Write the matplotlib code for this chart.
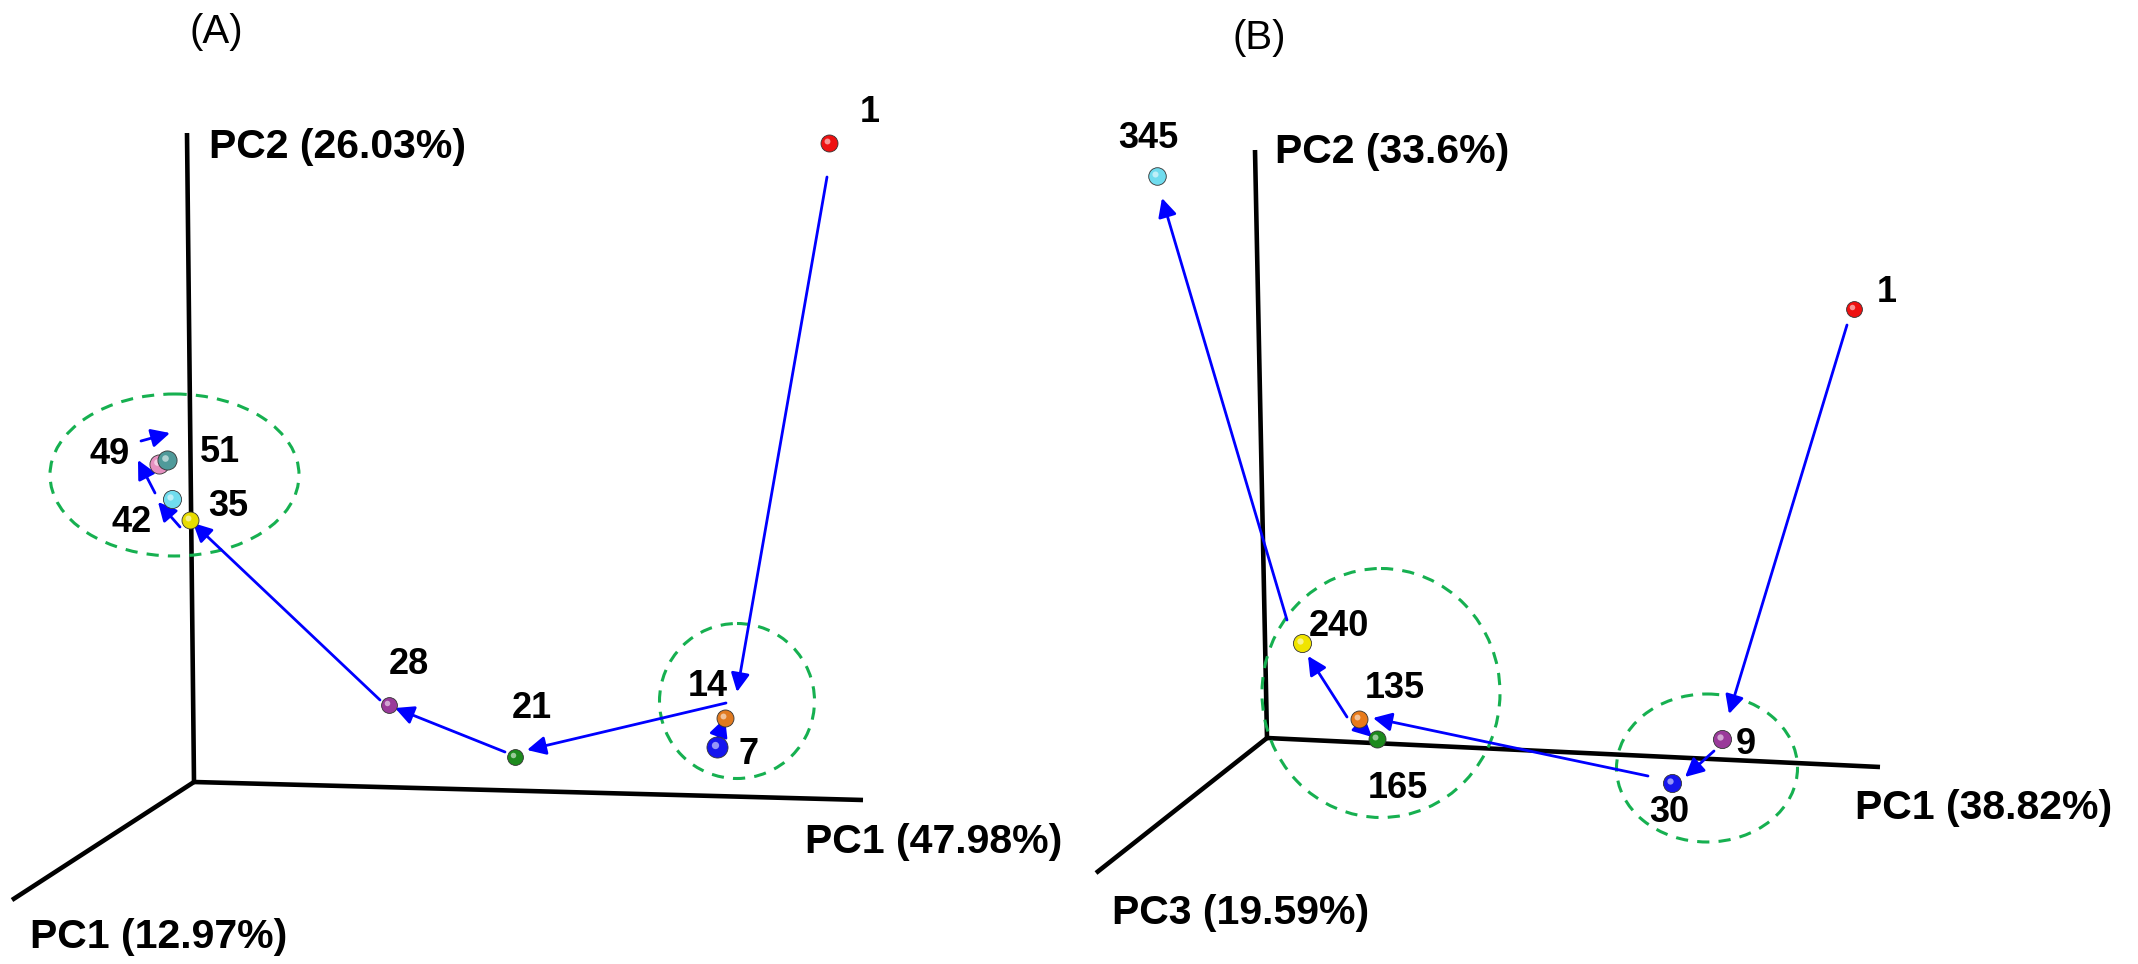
import matplotlib
matplotlib.use("Agg")
import matplotlib.pyplot as plt
from matplotlib.patches import Ellipse

plt.rcParams['font.family'] = ['Liberation Sans', 'DejaVu Sans']

# ---------------- Panel A data (projected picture coordinates) ----------------
a_axis_origin = (194, 782)
a_axis_ends = [(187, 133), (863, 800), (12, 900)]
a_axis_labels = ["PC2 (26.03%)", "PC1 (47.98%)", "PC1 (12.97%)"]
a_axis_label_pos = [(209, 147), (805, 842), (30, 937)]

a_ids = ["1", "7", "14", "21", "28", "35", "42", "49", "51"]
a_x = [829, 717, 725, 515, 389, 190, 172, 159, 167]
a_y = [143, 747, 718, 757, 705, 520, 499, 464, 460]
a_colors = ["#ee1111", "#1515ee", "#e07a20", "#1d8a1d", "#9a3a9a", "#e8dc00", "#70dcee", "#e590c0", "#4f9a9a"]
a_sizes = [150, 230, 150, 130, 130, 150, 170, 190, 190]
a_label_x = [870, 749, 708, 532, 409, 228, 132, 110, 220]
a_label_y = [112, 755, 687, 709, 665, 507, 523, 455, 452]

a_arrow_from = [(827, 177), (717, 740), (726, 703), (505, 752), (380, 700), (180, 527), (155, 493), (141, 441)]
a_arrow_to = [(737, 692), (725, 718), (527, 750), (395, 708), (193, 523), (158, 502), (138, 460), (170, 433)]

a_ellipses = [((174.5, 475), 249, 162), ((737, 701), 155, 155)]

# ---------------- Panel B data ----------------
b_axis_origin = (1267, 738)
b_axis_ends = [(1255, 150), (1880, 767), (1096, 873)]
b_axis_labels = ["PC2 (33.6%)", "PC1 (38.82%)", "PC3 (19.59%)"]
b_axis_label_pos = [(1275, 152), (1855, 808), (1112, 913)]

b_ids = ["1", "9", "30", "135", "165", "240", "345"]
b_x = [1854, 1722, 1672, 1359, 1377, 1302, 1157]
b_y = [309, 739, 783, 719, 739, 643, 176]
b_colors = ["#ee1111", "#9a3a9a", "#1515ee", "#e87a1a", "#1d8a1d", "#f0e400", "#70dcee"]
b_sizes = [130, 170, 170, 150, 150, 170, 160]
b_label_x = [1887, 1746, 1669, 1395, 1398, 1339, 1148]
b_label_y = [292, 745, 813, 689, 789, 626, 138]

b_arrow_from = [(1847, 325), (1714, 751), (1648, 776), (1357, 723), (1347, 717), (1287, 620)]
b_arrow_to = [(1729, 714), (1685, 777), (1373, 718), (1372, 737), (1308, 656), (1162, 198)]

b_ellipses = [((1381, 693), 238, 249), ((1707, 768), 181, 148)]

panel_titles = ["(A)", "(B)"]
panel_title_pos = [(216, 32), (1259, 38)]

# ---------------- Drawing ----------------
fig = plt.figure(figsize=(21.38, 9.64), dpi=100)
ax = fig.add_axes([0, 0, 1, 1])
ax.set_xlim(0, 2138)
ax.set_ylim(964, 0)
ax.axis('off')

BLUE = "#0000ff"
GREEN = "#16b050"


def draw_panel(origin, ends, labels, label_pos, ids, xs, ys, cols, sizes, lx, ly,
               afrom, ato, ells):
    for (ex, ey) in ends:
        ax.plot([origin[0], ex], [origin[1], ey], color="black", lw=3.3,
                solid_capstyle="butt", zorder=2)
    for t, (px, py) in zip(labels, label_pos):
        ax.text(px, py, t, fontsize=29.5, fontweight="bold", ha="left", va="center", zorder=6)
    for (c, w, h) in ells:
        ax.add_patch(Ellipse(c, w, h, fill=False, edgecolor=GREEN, lw=2.2,
                             linestyle=(0, (4, 3)), zorder=3))
    for (fx, fy), (tx, ty) in zip(afrom, ato):
        ax.annotate("", xy=(tx, ty), xytext=(fx, fy),
                    arrowprops=dict(arrowstyle="-|>", color=BLUE, lw=2.0,
                                    mutation_scale=28, shrinkA=0, shrinkB=0),
                    zorder=4)
    for x, y, c, s in zip(xs, ys, cols, sizes):
        ax.scatter([x], [y], s=s, color=c, edgecolors="#333333", linewidths=0.6, zorder=5)
        ax.scatter([x - 2.5], [y - 2.5], s=s * 0.12, color="white", alpha=0.55,
                   linewidths=0, zorder=5)
    for t, x, y in zip(ids, lx, ly):
        ax.text(x, y, t, fontsize=26, fontweight="bold", ha="center", va="center", zorder=6)


draw_panel(a_axis_origin, a_axis_ends, a_axis_labels, a_axis_label_pos, a_ids, a_x, a_y,
           a_colors, a_sizes, a_label_x, a_label_y, a_arrow_from, a_arrow_to, a_ellipses)
draw_panel(b_axis_origin, b_axis_ends, b_axis_labels, b_axis_label_pos, b_ids, b_x, b_y,
           b_colors, b_sizes, b_label_x, b_label_y, b_arrow_from, b_arrow_to, b_ellipses)

for t, (px, py) in zip(panel_titles, panel_title_pos):
    ax.text(px, py, t, fontsize=29, ha="center", va="center")

fig.savefig("out.png", dpi=100)
